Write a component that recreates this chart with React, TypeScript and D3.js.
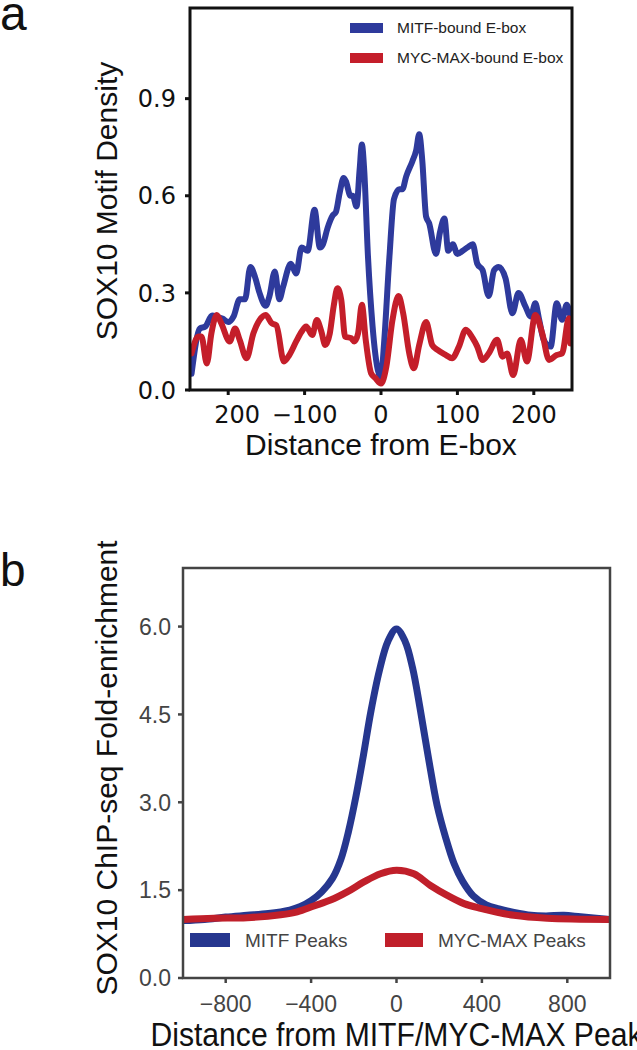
import React from "react";
import * as d3 from "d3";

// ---------- Panel a data ----------
const mitfEboxX = [-248,-237,-230,-221,-215,-207,-200,-193,-185,-178,-171,-165,-159,-151,-146,-139,-133,-128,-118,-111,-104,-96,-87,-80,-76,-70,-63,-59,-54,-49,-46,-40,-37,-32,-28,-25,-22,-17,-11,-4,0,4,11,17,24,28,33,41,46,50,54,59,63,72,77,83,88,94,100,107,113,120,126,133,141,148,154,163,172,180,189,196,202,207,213,222,230,237,243,248];
const mitfEboxY = [0.05,0.19,0.196,0.23,0.227,0.22,0.21,0.227,0.28,0.28,0.38,0.35,0.30,0.26,0.29,0.366,0.28,0.32,0.39,0.36,0.44,0.43,0.557,0.44,0.45,0.50,0.54,0.55,0.61,0.655,0.645,0.60,0.60,0.567,0.68,0.758,0.68,0.41,0.196,0.06,0.04,0.144,0.41,0.59,0.62,0.62,0.66,0.706,0.74,0.79,0.71,0.536,0.515,0.42,0.485,0.53,0.43,0.45,0.42,0.43,0.44,0.45,0.39,0.37,0.29,0.37,0.38,0.345,0.237,0.30,0.258,0.227,0.268,0.217,0.155,0.134,0.268,0.217,0.263,0.227];
const mycEboxX = [-248,-239,-235,-228,-222,-215,-209,-198,-191,-185,-176,-167,-159,-151,-143,-137,-127,-120,-111,-104,-98,-90,-84,-78,-73,-67,-62,-57,-52,-47,-39,-35,-30,-25,-20,-13,-7,0,7,15,23,29,37,43,50,59,67,74,85,93,102,111,120,126,133,141,152,159,165,173,183,191,202,211,220,230,237,246,248];
const mycEboxY = [0.113,0.165,0.165,0.082,0.175,0.232,0.206,0.15,0.19,0.155,0.098,0.175,0.216,0.232,0.206,0.20,0.088,0.108,0.15,0.18,0.196,0.17,0.216,0.18,0.139,0.175,0.258,0.314,0.278,0.165,0.16,0.15,0.175,0.263,0.155,0.052,0.036,0.02,0.072,0.216,0.29,0.237,0.113,0.067,0.139,0.21,0.139,0.124,0.108,0.098,0.134,0.186,0.16,0.134,0.093,0.113,0.155,0.103,0.113,0.046,0.155,0.088,0.232,0.175,0.093,0.108,0.113,0.222,0.144];
const aYTicks = [0, 0.3, 0.6, 0.9];
const aYTickLabels = ["0.0", "0.3", "0.6", "0.9"];
const aXTicks = [-200, -100, 0, 100, 200];
const aXTickLabels = ["200", "\u2212100", "0", "100", "200"];
const aLegend = ["MITF-bound E-box", "MYC-MAX-bound E-box"];

// ---------- Panel b data ----------
const mitfPeakX = [-1000,-900,-800,-700,-600,-500,-450,-400,-350,-300,-260,-225,-190,-155,-120,-80,-40,0,40,75,112,150,190,230,270,310,360,420,480,550,630,700,784,862,1000];
const mitfPeakY = [0.98,1.0,1.04,1.07,1.10,1.16,1.22,1.32,1.47,1.70,2.03,2.5,3.1,3.8,4.55,5.25,5.75,5.96,5.75,5.3,4.57,3.75,2.95,2.4,1.95,1.65,1.40,1.25,1.18,1.12,1.07,1.06,1.07,1.045,1.0];
const mycPeakX = [-1000,-856,-700,-543,-465,-387,-309,-231,-153,-75,0,81,159,238,316,394,550,706,1000];
const mycPeakY = [1.0,1.02,1.03,1.08,1.13,1.23,1.33,1.47,1.64,1.78,1.84,1.78,1.58,1.41,1.27,1.19,1.07,1.02,1.0];
const bYTicks = [0, 1.5, 3, 4.5, 6];
const bYTickLabels = ["0.0", "1.5", "3.0", "4.5", "6.0"];
const bXTicks = [-800, -400, 0, 400, 800];
const bXTickLabels = ["\u2212800", "\u2212400", "0", "400", "800"];
const bLegend = ["MITF Peaks", "MYC-MAX Peaks"];

const BLUE_A = "#2e3a9c";
const RED_A = "#c41e2a";
const BLUE_B = "#26378f";
const RED_B = "#c01f2a";
const SANS = "'Liberation Sans', Arial, sans-serif";
const DEJAVU = "'DejaVu Sans', sans-serif";

export default function App() {
  // Panel a scales
  const ax = d3.scaleLinear().domain([-250, 250]).range([190, 572]);
  const ay = d3.scaleLinear().domain([0, 1.18]).range([390, 8]);
  const lineA = d3
    .line<[number, number]>()
    .x((d) => ax(d[0]))
    .y((d) => ay(d[1]))
    .curve(d3.curveMonotoneX);
  const mitfA = lineA(mitfEboxX.map((x, i) => [x, mitfEboxY[i]]) as [number, number][]) || "";
  const mycA = lineA(mycEboxX.map((x, i) => [x, mycEboxY[i]]) as [number, number][]) || "";

  // Panel b scales
  const bx = d3.scaleLinear().domain([-1000, 1000]).range([183, 610]);
  const by = d3.scaleLinear().domain([0, 7]).range([978, 568]);
  const lineB = d3
    .line<[number, number]>()
    .x((d) => bx(d[0]))
    .y((d) => by(d[1]))
    .curve(d3.curveCatmullRom.alpha(0.5));
  const mitfB = lineB(mitfPeakX.map((x, i) => [x, mitfPeakY[i]]) as [number, number][]) || "";
  const mycB = lineB(mycPeakX.map((x, i) => [x, mycPeakY[i]]) as [number, number][]) || "";

  const [ax0, ax1] = ax.range();
  const [ay0, ay1] = ay.range();
  const [bx0, bx1] = bx.range();
  const [by0, by1] = by.range();

  return (
    <svg
      width={637}
      height={1050}
      style={{ position: "absolute", left: 0, top: 0, background: "#fff" }}
    >
      <defs>
        <clipPath id="clipA">
          <rect x={ax0} y={ay1} width={ax1 - ax0} height={ay0 - ay1} />
        </clipPath>
        <clipPath id="clipB">
          <rect x={bx0} y={by1} width={bx1 - bx0} height={by0 - by1} />
        </clipPath>
      </defs>

      {/* ---------------- Panel a ---------------- */}
      <text x={0} y={30} fontFamily={SANS} fontSize={48} fill="#111">a</text>

      <g clipPath="url(#clipA)">
        <path d={mitfA} fill="none" stroke={BLUE_A} strokeWidth={6} strokeLinejoin="round" strokeLinecap="round" />
        <path d={mycA} fill="none" stroke={RED_A} strokeWidth={6} strokeLinejoin="round" strokeLinecap="round" />
      </g>
      <rect x={ax0} y={ay1} width={ax1 - ax0} height={ay0 - ay1} fill="none" stroke="#111" strokeWidth={3} />

      {aYTicks.map((t, i) => (
        <g key={"ayt" + i}>
          <line x1={ax0 - 5} x2={ax0} y1={ay(t)} y2={ay(t)} stroke="#111" strokeWidth={3} />
          <text x={176} y={ay(t)} dy="0.36em" textAnchor="end" fontFamily={DEJAVU} fontSize={24} fill="#111">
            {aYTickLabels[i]}
          </text>
        </g>
      ))}
      {aXTicks.map((t, i) => (
        <g key={"axt" + i}>
          <line x1={ax(t)} x2={ax(t)} y1={ay0} y2={ay0 + 5} stroke="#111" strokeWidth={3} />
          <text x={ax(t)} y={423} dx={i === 0 ? 9 : 0} textAnchor="middle" fontFamily={DEJAVU} fontSize={24} fill="#111">
            {aXTickLabels[i]}
          </text>
        </g>
      ))}
      <text x={(ax0 + ax1) / 2} y={455} textAnchor="middle" fontFamily={SANS} fontSize={30} fill="#111">
        Distance from E-box
      </text>
      <text
        transform={`translate(117,${(ay0 + ay1) / 2 + 2}) rotate(-90)`}
        textAnchor="middle"
        fontFamily={SANS}
        fontSize={30}
        fill="#111"
      >
        SOX10 Motif Density
      </text>

      {/* legend a */}
      {aLegend.map((lab, i) => (
        <g key={"la" + i}>
          <rect x={350} y={23 + i * 30} width={33} height={10} fill={i === 0 ? BLUE_A : RED_A} />
          <text x={397} y={33 + i * 30} fontFamily={SANS} fontSize={15.5} fill="#222">
            {lab}
          </text>
        </g>
      ))}

      {/* ---------------- Panel b ---------------- */}
      <text x={0} y={586} fontFamily={SANS} fontSize={46} fill="#111">b</text>

      <g clipPath="url(#clipB)">
        <path d={mitfB} fill="none" stroke={BLUE_B} strokeWidth={7} strokeLinejoin="round" />
        <path d={mycB} fill="none" stroke={RED_B} strokeWidth={7} strokeLinejoin="round" />
      </g>
      <rect x={bx0} y={by1} width={bx1 - bx0} height={by0 - by1} fill="none" stroke="#444" strokeWidth={2.5} />

      {bYTicks.map((t, i) => (
        <g key={"byt" + i}>
          <line x1={bx0 - 5} x2={bx0} y1={by(t)} y2={by(t)} stroke="#444" strokeWidth={2.5} />
          <text x={171} y={by(t)} dy="0.36em" textAnchor="end" fontFamily={SANS} fontSize={23} fill="#444">
            {bYTickLabels[i]}
          </text>
        </g>
      ))}
      {bXTicks.map((t, i) => (
        <g key={"bxt" + i}>
          <line x1={bx(t)} x2={bx(t)} y1={by0} y2={by0 + 5} stroke="#444" strokeWidth={2.5} />
          <text x={bx(t)} y={1012} textAnchor="middle" fontFamily={SANS} fontSize={23} fill="#444">
            {bXTickLabels[i]}
          </text>
        </g>
      ))}
      <text
        x={(bx0 + bx1) / 2}
        y={1046}
        textAnchor="middle"
        fontFamily={SANS}
        fontSize={33}
        textLength={492}
        lengthAdjust="spacingAndGlyphs"
        fill="#111"
      >
        Distance from MITF/MYC-MAX Peak
      </text>
      <text
        transform={`translate(117,${(by0 + by1) / 2 - 5}) rotate(-90)`}
        textAnchor="middle"
        fontFamily={SANS}
        fontSize={30}
        fill="#111"
      >
        SOX10 ChIP-seq Fold-enrichment
      </text>

      {/* legend b */}
      {bLegend.map((lab, i) => (
        <g key={"lb" + i}>
          <rect x={190 + i * 195} y={933} width={i === 0 ? 40 : 38} height={14} fill={i === 0 ? BLUE_B : RED_B} />
          <text x={245 + i * 193} y={947} fontFamily={SANS} fontSize={19} fill="#444">
            {lab}
          </text>
        </g>
      ))}
    </svg>
  );
}
